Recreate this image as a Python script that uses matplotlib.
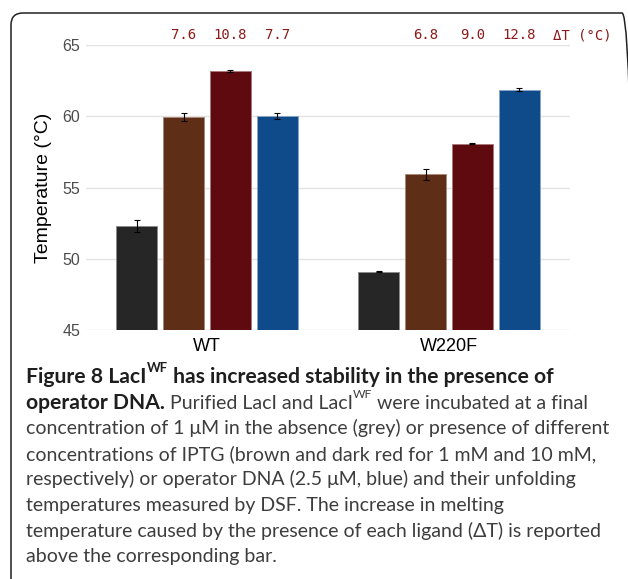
import numpy as np
import matplotlib.pyplot as plt
from matplotlib.patches import FancyBboxPatch
from matplotlib.transforms import IdentityTransform

W, H = 628, 579

groups = ['WT', 'W220F']
# order: no ligand, IPTG 1 mM, IPTG 10 mM, operator DNA
wt_tm = [52.3, 59.95, 63.18, 60.02]
wt_err = [0.4, 0.3, 0.05, 0.22]
w220f_tm = [49.09, 55.93, 58.07, 61.85]
w220f_err = [0.05, 0.4, 0.05, 0.1]
wt_delta = ['7.6', '10.8', '7.7']
w220f_delta = ['6.8', '9.0', '12.8']
colors = ['#262626', '#5f2e16', '#5e0a0f', '#0f4a8a']
edge_colors = ['#8a8a8a', '#a88a7a', '#a87a7c', '#8aa4c4']

fig = plt.figure(figsize=(6.28, 5.79), dpi=100)
ax = fig.add_axes([86 / W, 1 - 330 / H, 484 / W, 285 / H])

centers = np.arange(1, len(groups) + 1)
step = 0.194
for j in range(4):
    x = centers + (j - 1.5) * step
    vals = [wt_tm[j], w220f_tm[j]]
    errs = [wt_err[j], w220f_err[j]]
    ax.bar(x, vals, width=0.17, color=colors[j], edgecolor=edge_colors[j],
           linewidth=0.7, zorder=2)
    ax.errorbar(x, vals, yerr=errs, fmt='none', ecolor='black',
                elinewidth=0.8, capsize=2.5, capthick=0.8, zorder=3)

# delta T labels above the bars
for i, labels in enumerate([wt_delta, w220f_delta]):
    for j, s in enumerate(labels):
        ax.text(centers[i] + (j - 0.5) * step, 65.7, s, ha='center', va='center',
                color='#8b1a1a', fontsize=10, family='DejaVu Sans Mono', clip_on=False)
ax.text(2.552, 65.7, 'ΔT (°C)', ha='center', va='center', color='#8b1a1a',
        fontsize=10, family='DejaVu Sans Mono', clip_on=False)

ax.set_xlim(0.5, 2.5)
ax.set_ylim(45, 65)
ax.set_yticks([45, 50, 55, 60, 65])
ax.set_xticks(centers)
ax.set_xticklabels(groups, fontsize=13, family='Liberation Sans', color='black')
ax.tick_params(axis='y', length=0, pad=4, labelsize=11.5, labelcolor='#4d4d4d')
ax.tick_params(axis='x', length=0, pad=6)
for lab in ax.get_yticklabels():
    lab.set_family('Liberation Sans')
ax.grid(axis='y', color='#e3e3e3', linewidth=1, zorder=0)
ax.set_axisbelow(True)
for sp in ax.spines.values():
    sp.set_visible(False)
ax.set_ylabel('Temperature (°C)', fontsize=14, family='Liberation Sans')
ax.yaxis.set_label_coords(-0.07, 0.5)

# frame around the figure panel (right and bottom sides run off the image)
box = FancyBboxPatch((11, -30), 623, H - 13 + 30,
                     boxstyle='round,pad=0,rounding_size=12',
                     transform=IdentityTransform(), facecolor='none',
                     edgecolor='#222222', linewidth=1.1)
fig.add_artist(box)

# caption
cap_font = ['Lato', 'DejaVu Sans']
renderer = fig.canvas.get_renderer()
caption = [
    [('Figure 8 LacI', 'b', 0), ('WF', 'b', 1), (' has increased stability in the presence of', 'b', 0)],
    [('operator DNA.', 'b', 0), (' Purified LacI and LacI', 'r', 0), ('WF', 'r', 1),
     (' were incubated at a final', 'r', 0)],
    [('concentration of 1 μM in the absence (grey) or presence of different', 'r', 0)],
    [('concentrations of IPTG (brown and dark red for 1 mM and 10 mM,', 'r', 0)],
    [('respectively) or operator DNA (2.5 μM, blue) and their unfolding', 'r', 0)],
    [('temperatures measured by DSF. The increase in melting', 'r', 0)],
    [('temperature caused by the presence of each ligand (ΔT) is reported', 'r', 0)],
    [('above the corresponding bar.', 'r', 0)],
]


def text_width(s, size, weight='normal'):
    t = fig.text(0, 0, s, fontsize=size, family=cap_font, fontweight=weight)
    w = t.get_window_extent(renderer).width
    t.remove()
    return w


# body size fitted to the third line, bold title fitted to its own line
cap_size = 14 * 587 / text_width(caption[2][0][0], 14)
title_w = sum(text_width(s, cap_size * (0.62 if sup else 1), 'bold') for s, _, sup in caption[0])
bold_scale = 528 / title_w

for i, runs in enumerate(caption):
    x = 26
    y = 383 + i * 25.6
    for s, style, sup in runs:
        fs = cap_size * (bold_scale if style == 'b' else 1)
        fs = fs * 0.62 if sup else fs
        yy = y - cap_size * 0.55 * 100 / 72 * sup
        t = fig.text(x / W, 1 - yy / H, s, fontsize=fs, family=cap_font,
                     fontweight='bold' if style == 'b' else 'normal',
                     color='#1e1e1e' if style == 'b' else '#3d3d3d', va='baseline')
        x += t.get_window_extent(renderer).width

fig.savefig('out.png', dpi=100)
